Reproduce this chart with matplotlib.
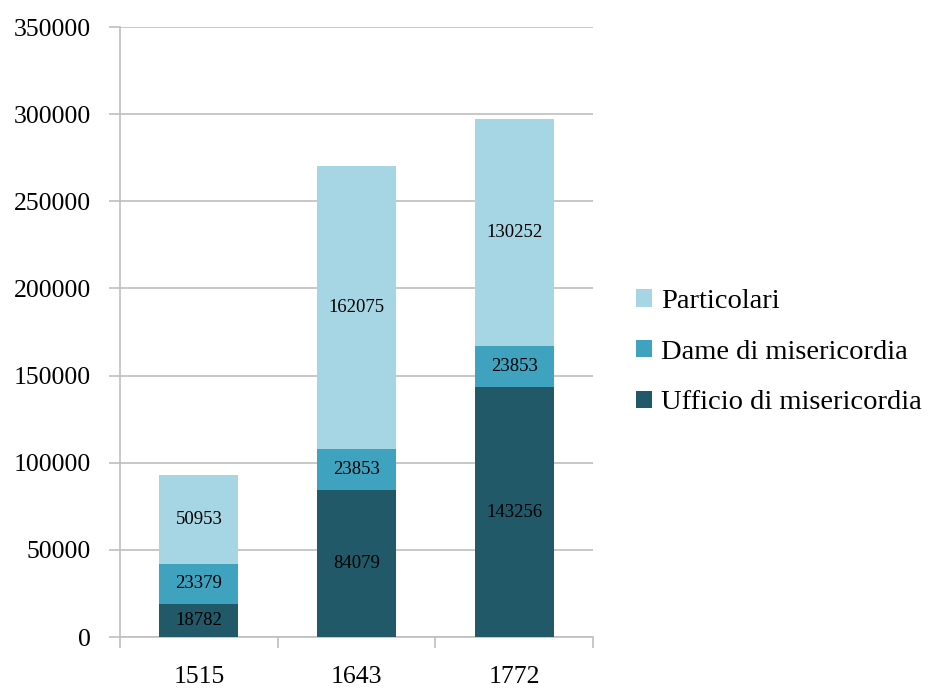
import matplotlib
matplotlib.use('Agg')
import matplotlib.pyplot as plt
from matplotlib.patches import Patch
import numpy as np

# Data
years = ['1515', '1643', '1772']
ufficio = [18782, 84079, 143256]
dame = [23379, 23853, 23853]
particolari = [50953, 162075, 130252]

c_dark = '#215968'
c_mid = '#3fa3c0'
c_light = '#a6d6e3'
grid_c = '#bfbfbf'

plt.rcParams['font.family'] = ['Liberation Serif', 'DejaVu Serif']

fig = plt.figure(figsize=(9.29, 6.88), dpi=100)
ax = fig.add_axes([0.1292, 0.0741, 0.5091, 0.8866])

x = np.arange(len(years))
w = 0.5
bottom = np.zeros(len(years))
for vals, col in [(ufficio, c_dark), (dame, c_mid), (particolari, c_light)]:
    vals = np.array(vals)
    ax.bar(x, vals, w, bottom=bottom, color=col, linewidth=0, zorder=3)
    for xi, b, v in zip(x, bottom, vals):
        ax.text(xi, b + v / 2, f'{v}', ha='center', va='center',
                fontsize=13.5, color='black', zorder=4)
    bottom = bottom + vals

ax.set_xlim(-0.5, 2.5)
ax.set_ylim(0, 350000)
ax.set_yticks(np.arange(0, 350001, 50000))
ax.yaxis.grid(True, color=grid_c, linewidth=1.2, zorder=0)
ax.set_axisbelow(True)

ax.set_xticks(x)
ax.set_xticklabels(years)
ax.set_xticks([-0.5, 0.5, 1.5, 2.5], minor=True)
ax.tick_params(axis='x', which='major', length=0, pad=21, labelsize=18.5)
ax.tick_params(axis='x', which='minor', length=8, width=1.2, color=grid_c)
ax.tick_params(axis='y', length=8, width=1.2, color=grid_c, labelsize=18.5, pad=13)

for s in ['top', 'right']:
    ax.spines[s].set_visible(False)
for s in ['left', 'bottom']:
    ax.spines[s].set_color(grid_c)
    ax.spines[s].set_linewidth(1.2)

# legend order as in the reference (top to bottom)
handles = [Patch(facecolor=c_light, label='Particolari'),
           Patch(facecolor=c_mid, label='Dame di misericordia'),
           Patch(facecolor=c_dark, label='Ufficio di misericordia')]
fig.legend(handles=handles, loc='center left', bbox_to_anchor=(0.6728, 0.488),
           frameon=False, fontsize=20.5, handlelength=0.56, handleheight=0.56,
           handletextpad=0.3, labelspacing=0.9, borderaxespad=0, borderpad=0.4)

fig.savefig('out.png', dpi=100)
